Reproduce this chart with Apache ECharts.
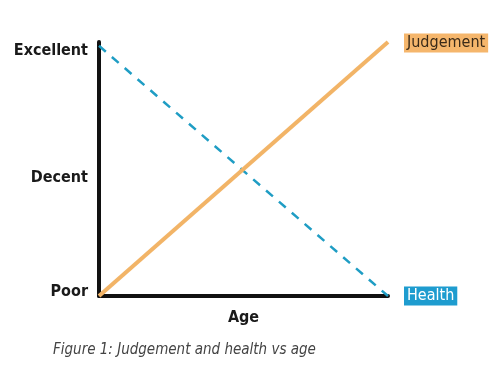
<!DOCTYPE html>
<html>
<head>
<meta charset="utf-8">
<script src="https://cdn.jsdelivr.net/npm/echarts@6/dist/echarts.min.js"></script>
<style>
  html, body { margin: 0; padding: 0; background: #fff; }
  #main { width: 499px; height: 377px; }
</style>
</head>
<body>
<div id="main"></div>
<script>
// data (age and rating both on 0..1)
var judgement = [[0, 0], [1, 1]];
var health = [[0, 0.985], [1, 0]];
var yTickValues = [0.015, 0.465, 0.965];
var yTickLabels = ['Poor', 'Decent', 'Excellent'];
var caption = 'Figure 1: Judgement and health vs age';

var font = '"Liberation Sans Narrow", "DejaVu Sans Condensed", sans-serif';

var chart = echarts.init(document.getElementById('main'), null, { renderer: 'canvas' });

var option = {
  backgroundColor: '#fff',
  animation: false,
  grid: { left: 99, right: 111, top: 42, bottom: 81 },
  graphic: [{
    type: 'text', left: 53, top: 343,
    style: { text: caption, font: 'italic 15px ' + font, fill: '#444' }
  }],
  xAxis: {
    type: 'value', min: 0, max: 1,
    name: 'Age', nameLocation: 'middle', nameGap: 14,
    nameTextStyle: { fontFamily: font, fontWeight: 'bold', fontSize: 16, color: '#1a1a1a' },
    axisLine: { show: true, lineStyle: { color: '#111', width: 4 } },
    axisTick: { show: false }, axisLabel: { show: false }, splitLine: { show: false }
  },
  yAxis: {
    type: 'value', min: 0, max: 1,
    axisLine: { show: true, lineStyle: { color: '#111', width: 4 } },
    axisTick: { show: false }, splitLine: { show: false },
    axisLabel: {
      customValues: yTickValues, margin: 11,
      fontFamily: font, fontWeight: 'bold', fontSize: 16, color: '#1a1a1a',
      formatter: function (v) { return yTickLabels[yTickValues.indexOf(v)]; }
    }
  },
  series: [{
    name: 'Judgement', type: 'line', data: judgement, symbol: 'none', z: 3,
    lineStyle: { color: '#f2b467', width: 4 },
    endLabel: {
      show: true, formatter: 'Judgement', distance: 16, offset: [0, 1],
      fontFamily: font, fontSize: 16, color: '#3a2a18',
      backgroundColor: '#f5b66c', padding: [2, 3, 1, 3]
    }
  }, {
    name: 'Health', type: 'line', data: health, symbol: 'none', z: 2,
    lineStyle: { color: '#1f9dc4', width: 2.5, type: [9, 8] },
    endLabel: {
      show: true, formatter: 'Health', distance: 16,
      fontFamily: font, fontSize: 16, color: '#fff',
      backgroundColor: '#1e9ccf', padding: [2, 3, 1, 3]
    }
  }]
};

chart.setOption(option);
</script>
</body>
</html>
